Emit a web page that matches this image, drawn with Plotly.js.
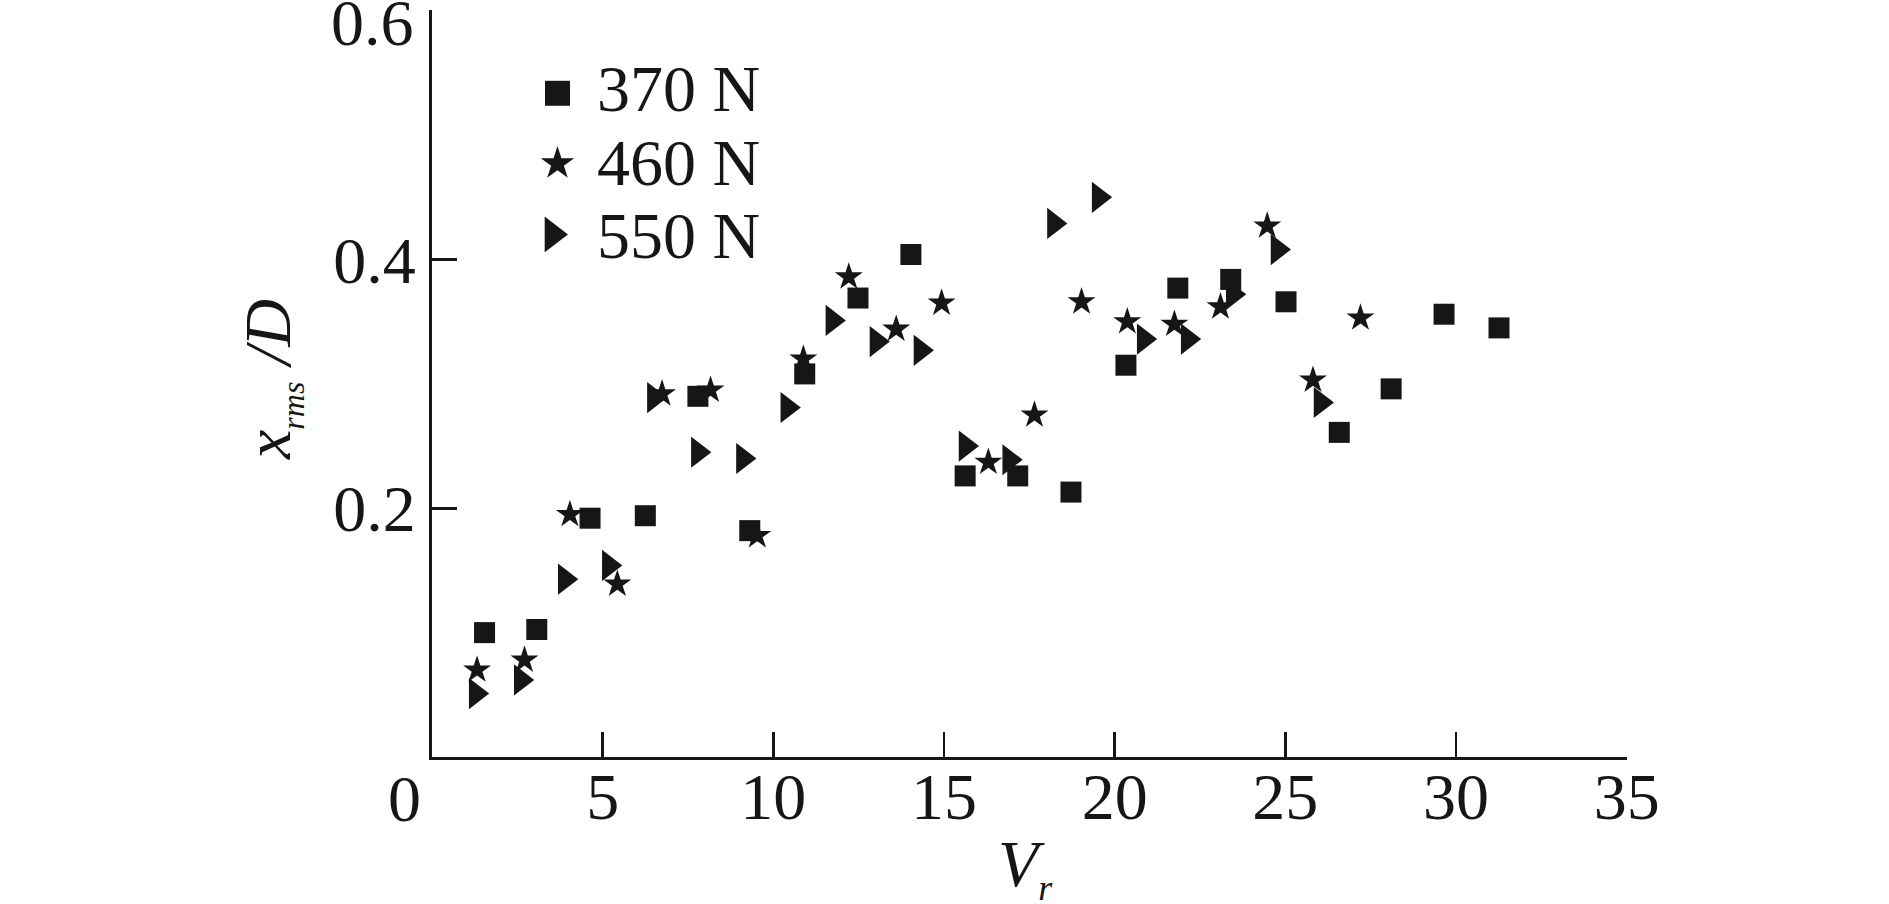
<!DOCTYPE html>
<html>
<head>
<meta charset="utf-8">
<script src="https://cdn.plot.ly/plotly-3.0.1.min.js"></script>
<style>
  html, body { margin: 0; padding: 0; background: #ffffff; }
  #chart { width: 1889px; height: 904px; }
</style>
</head>
<body>
<div id="chart"></div>
<script>
// ---------------- data ----------------
const seriesNames = ["370 N", "460 N", "550 N"];

const vr370 = [1.54, 3.07, 4.63, 6.25, 7.79, 9.31, 10.92, 12.48, 14.03, 15.62, 17.16, 18.72, 20.33, 21.85, 23.40, 25.02, 26.58, 28.10, 29.65, 31.26];
const xr370 = [0.100, 0.1025, 0.192, 0.194, 0.290, 0.182, 0.308, 0.369, 0.404, 0.226, 0.226, 0.213, 0.315, 0.377, 0.384, 0.366, 0.261, 0.296, 0.356, 0.345];

const vr460 = [1.32, 2.71, 4.04, 5.43, 6.74, 8.16, 9.53, 10.88, 12.21, 13.60, 14.93, 16.30, 17.65, 19.03, 20.37, 21.75, 23.10, 24.47, 25.81, 27.20];
const xr460 = [0.070, 0.078, 0.195, 0.139, 0.292, 0.295, 0.178, 0.320, 0.386, 0.344, 0.365, 0.237, 0.275, 0.366, 0.350, 0.348, 0.362, 0.427, 0.303, 0.353];

const vr550 = [1.28, 2.60, 3.89, 5.18, 6.50, 7.79, 9.11, 10.41, 11.73, 13.02, 14.31, 15.63, 16.91, 18.22, 19.53, 20.85, 22.14, 23.46, 24.77, 26.03];
const xr550 = [0.051, 0.062, 0.143, 0.154, 0.289, 0.245, 0.240, 0.281, 0.351, 0.334, 0.327, 0.250, 0.239, 0.429, 0.450, 0.336, 0.336, 0.372, 0.408, 0.285];

const xTickVals = [5, 10, 15, 20, 25, 30, 35];
const xTickText = ["5", "10", "15", "20", "25", "30", "35"];
const yTickVals = [0.2, 0.4, 0.6];
const yTickText = ["0.2", "0.4", ""];   // the top label "0.6" sits just below its tick (annotation)
const yTopLabel = "0.6";
const originLabel = "0";

// ---------------- style ----------------
const INK = "#161616";
const FONT = "Liberation Serif, Times New Roman, Times, serif";
const FS = 66;

const symbols = ["square", "star", "triangle-right"];
const dataSizes = [21, 21, 27];
const keySizes = [25, 25, 31];
// legend key placement (fractions of the plotting area)
const keyX = [0.105, 0.105, 0.1008];
const keyY = [0.8885, 0.7944, 0.6995];
const keyTextX = 0.1364;
const keyTextY = [0.8949, 0.7959, 0.6975];

const seriesV = [vr370, vr460, vr550];
const seriesX = [xr370, xr460, xr550];

const traces = [];
for (let i = 0; i < 3; i++) {
  traces.push({
    type: "scatter", mode: "markers", name: seriesNames[i],
    x: seriesV[i], y: seriesX[i],
    marker: { symbol: symbols[i], size: dataSizes[i], color: INK, line: { width: 0 } },
    showlegend: false, hoverinfo: "skip"
  });
}
// legend keys on an overlay axis pair spanning the plot area
for (let i = 0; i < 3; i++) {
  traces.push({
    type: "scatter", mode: "markers", name: seriesNames[i] + " key",
    x: [keyX[i]], y: [keyY[i]], xaxis: "x2", yaxis: "y2",
    marker: { symbol: symbols[i], size: keySizes[i], color: INK, line: { width: 0 } },
    showlegend: false, hoverinfo: "skip"
  });
}

const annotations = [];
for (let i = 0; i < 3; i++) {
  annotations.push({
    xref: "paper", yref: "paper", x: keyTextX, y: keyTextY[i],
    xanchor: "left", yanchor: "middle", showarrow: false,
    text: seriesNames[i], font: { family: FONT, size: FS, color: INK }
  });
}
// shared origin label
annotations.push({
  xref: "paper", yref: "paper", x: -0.0234, y: -0.0562,
  xanchor: "center", yanchor: "middle", showarrow: false,
  text: originLabel, font: { family: FONT, size: FS, color: INK }
});
// top y label
annotations.push({
  xref: "paper", yref: "paper", x: -0.0134, y: 0.9826,
  xanchor: "right", yanchor: "middle", showarrow: false,
  text: yTopLabel, font: { family: FONT, size: FS, color: INK }
});
// y title
annotations.push({
  xref: "paper", yref: "paper", x: -0.1348, y: 0.506,
  xanchor: "center", yanchor: "middle", showarrow: false, textangle: -90,
  text: "<i>x</i><sub><span style=\"font-size:32px\"><i>rms</i></span></sub> <i>/D</i>",
  font: { family: FONT, size: FS, color: INK }
});
// x title
annotations.push({
  xref: "paper", yref: "paper", x: 0.4964, y: -0.148,
  xanchor: "center", yanchor: "middle", showarrow: false,
  text: "<i>V</i><sub><span style=\"font-size:36px\"><i>r</i></span></sub>",
  font: { family: FONT, size: FS, color: INK }
});

const layout = {
  width: 1889, height: 904,
  paper_bgcolor: "#ffffff", plot_bgcolor: "#ffffff",
  margin: { l: 432, r: 262, t: 10, b: 147, pad: 0, autoexpand: false },
  showlegend: false,
  font: { family: FONT, size: FS, color: INK },
  xaxis: {
    range: [0, 35.01], tickvals: xTickVals, ticktext: xTickText,
    ticks: "inside", ticklen: 25, tickwidth: 2.5, tickcolor: INK,
    showline: true, linewidth: 3, linecolor: INK, mirror: false,
    showgrid: false, zeroline: false, automargin: false,
    ticklabelstandoff: -20, ticklabeloverflow: "allow",
    tickfont: { family: FONT, size: FS, color: INK }
  },
  yaxis: {
    range: [0, 0.6006], tickvals: yTickVals, ticktext: yTickText,
    ticks: "inside", ticklen: 25, tickwidth: 2.5, tickcolor: INK,
    showline: true, linewidth: 3, linecolor: INK, mirror: false,
    showgrid: false, zeroline: false, automargin: false,
    ticklabeloverflow: "allow",
    tickfont: { family: FONT, size: FS, color: INK }
  },
  xaxis2: { overlaying: "x", range: [0, 1], visible: false, fixedrange: true },
  yaxis2: { overlaying: "y", range: [0, 1], visible: false, fixedrange: true },
  annotations: annotations
};

Plotly.newPlot("chart", traces, layout, { displayModeBar: false, staticPlot: true });
</script>
</body>
</html>
